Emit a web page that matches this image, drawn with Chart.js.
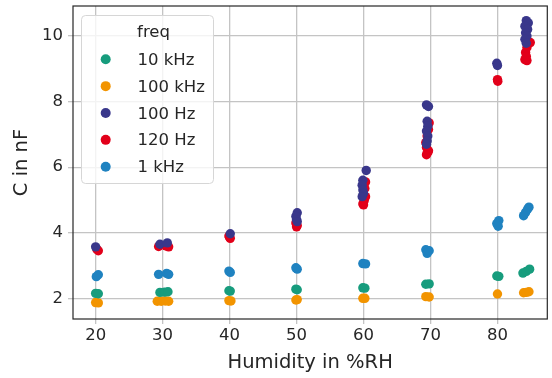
<!DOCTYPE html>
<html><head><meta charset="utf-8">
<script src="https://cdn.jsdelivr.net/npm/chart.js@4/dist/chart.umd.min.js"></script>
<style>html,body{margin:0;padding:0;background:#fff}canvas{display:block}</style>
</head><body>
<canvas id="c" width="552" height="378"></canvas>
<script>
// ---- data ----
const legendTitle = 'freq';
const seriesLabels = ['10 kHz', '100 kHz', '100 Hz', '120 Hz', '1 kHz'];
const xTickValues = [20, 30, 40, 50, 60, 70, 80];
const yTickValues = [2, 4, 6, 8, 10];

const hum10kHz = [20.0, 20.4, 29.6, 30.3, 30.8, 39.9, 40.1, 49.9, 50.1, 59.9, 60.2, 69.3, 69.8, 79.9, 80.2, 83.8, 84.3, 84.8];
const cap10kHz = [2.15, 2.14, 2.18, 2.19, 2.20, 2.23, 2.22, 2.28, 2.26, 2.32, 2.31, 2.43, 2.44, 2.68, 2.67, 2.77, 2.82, 2.89];

const hum100kHz = [20.0, 20.4, 29.2, 29.8, 30.4, 30.9, 39.9, 40.2, 49.9, 50.1, 59.9, 60.2, 69.3, 69.8, 80.0, 83.9, 84.3, 84.7];
const cap100kHz = [1.87, 1.86, 1.91, 1.91, 1.92, 1.91, 1.93, 1.92, 1.95, 1.96, 2.00, 2.00, 2.05, 2.04, 2.13, 2.17, 2.18, 2.20];

const hum100Hz = [20.0, 29.6, 30.7, 40.1, 50.1, 49.9, 50.0, 50.1, 60.4, 59.9, 59.8, 59.9, 60.0, 59.8,
                  69.4, 69.7, 69.5, 69.6, 69.4, 69.6, 69.5, 69.4, 79.9, 80.0,
                  84.3, 84.6, 84.1, 84.5, 84.2, 84.4, 84.1, 84.3];
const cap100Hz = [3.57, 3.65, 3.69, 3.97, 4.61, 4.50, 4.40, 4.34, 5.90, 5.60, 5.45, 5.30, 5.20, 5.10,
                  7.90, 7.85, 7.40, 7.25, 7.10, 6.95, 6.80, 6.70, 9.17, 9.10,
                  10.47, 10.40, 10.30, 10.20, 10.10, 10.00, 9.90, 9.78];

const hum120Hz = [20.2, 20.4, 29.4, 30.5, 30.9, 39.9, 40.1, 40.0, 49.9, 50.1, 50.0,
                  60.3, 60.2, 60.3, 60.1, 59.9, 60.0,
                  69.8, 69.7, 69.5, 69.3, 69.4, 69.6, 69.4, 69.7, 80.0, 80.05,
                  84.9, 84.4, 84.2, 84.3, 84.1, 84.4];
const cap120Hz = [3.49, 3.45, 3.58, 3.60, 3.57, 3.90, 3.83, 3.86, 4.30, 4.22, 4.18,
                  5.55, 5.35, 5.10, 4.98, 4.88, 4.85,
                  7.35, 7.15, 6.95, 6.75, 6.60, 6.45, 6.38, 6.50, 8.67, 8.62,
                  9.80, 9.65, 9.50, 9.38, 9.28, 9.25];

const hum1kHz = [20.1, 20.4, 29.4, 30.6, 30.9, 39.9, 40.1, 49.9, 50.1, 59.9, 60.3, 69.3, 69.8, 69.5, 80.2, 79.9, 80.1, 84.7, 84.5, 84.2, 83.9];
const cap1kHz = [2.66, 2.72, 2.73, 2.76, 2.73, 2.83, 2.79, 2.93, 2.89, 3.06, 3.05, 3.48, 3.45, 3.37, 4.37, 4.28, 4.20, 4.78, 4.72, 4.62, 4.52];

const seriesColors = ['#179c7d', '#f29400', '#39378b', '#e2001a', '#1f82c0'];

const pairs = (xs, ys) => xs.map((x, i) => ({x: x, y: ys[i]}));
const seriesData = [
  pairs(hum10kHz, cap10kHz),
  pairs(hum100kHz, cap100kHz),
  pairs(hum100Hz, cap100Hz),
  pairs(hum120Hz, cap120Hz),
  pairs(hum1kHz, cap1kHz)
];

const FONT = "'DejaVu Sans', sans-serif";
const TEXT = '#262626';
const GRID = '#c4c4c4';

const framePlugin = {
  id: 'frame',
  afterDraw(chart) {
    const {ctx, chartArea: a} = chart;
    ctx.save();
    ctx.strokeStyle = '#262626';
    ctx.lineWidth = 1.2;
    ctx.strokeRect(a.left, a.top, a.right - a.left, a.bottom - a.top);
    ctx.restore();
  }
};

const legendPlugin = {
  id: 'boxLegend',
  afterDraw(chart) {
    const ctx = chart.ctx;
    const x0 = 81.5, y0 = 15.5, w = 132, h = 168, r = 4;
    ctx.save();
    ctx.beginPath();
    ctx.moveTo(x0 + r, y0);
    ctx.arcTo(x0 + w, y0, x0 + w, y0 + h, r);
    ctx.arcTo(x0 + w, y0 + h, x0, y0 + h, r);
    ctx.arcTo(x0, y0 + h, x0, y0, r);
    ctx.arcTo(x0, y0, x0 + w, y0, r);
    ctx.closePath();
    ctx.fillStyle = 'rgba(255,255,255,0.8)';
    ctx.fill();
    ctx.strokeStyle = '#d6d6d6';
    ctx.lineWidth = 1;
    ctx.stroke();
    ctx.fillStyle = TEXT;
    ctx.font = '16.5px ' + FONT;
    ctx.textAlign = 'center';
    ctx.textBaseline = 'alphabetic';
    ctx.fillText(legendTitle, 153.5, 36.7);
    ctx.textAlign = 'left';
    chart.data.datasets.forEach((ds, i) => {
      const yc = 59.3 + i * 26.85;
      ctx.beginPath();
      ctx.arc(105.7, yc, 5, 0, Math.PI * 2);
      ctx.fillStyle = ds.backgroundColor;
      ctx.fill();
      ctx.fillStyle = TEXT;
      ctx.fillText(ds.label, 137.5, yc + 5.5);
    });
    ctx.restore();
  }
};

new Chart(document.getElementById('c'), {
  type: 'scatter',
  data: {
    datasets: seriesLabels.map((lab, i) => ({
      label: lab,
      data: seriesData[i],
      backgroundColor: seriesColors[i],
      borderColor: seriesColors[i],
      borderWidth: 0,
      pointRadius: 4.7,
      pointHoverRadius: 4.7
    }))
  },
  options: {
    responsive: false,
    devicePixelRatio: 1,
    animation: false,
    layout: {padding: {top: 6, right: 3, left: 0, bottom: 0}},
    plugins: {legend: {display: false}, tooltip: {enabled: false}},
    scales: {
      x: {
        type: 'linear',
        min: 16.62, max: 87.44,
        afterBuildTicks: s => { s.ticks = xTickValues.map(v => ({value: v})); },
        afterFit: s => { s.height = 59; s.paddingLeft = 0; s.paddingRight = 0; },
        grid: {color: GRID, lineWidth: 1.3, tickLength: 5, tickColor: GRID},
        border: {display: false},
        ticks: {color: TEXT, font: {family: FONT, size: 16.5}, padding: 2, maxRotation: 0},
        title: {display: true, text: 'Humidity in %RH', color: TEXT,
                font: {family: FONT, size: 19.5}, padding: {top: 0, bottom: 3}}
      },
      y: {
        type: 'linear',
        min: 1.369, max: 10.915,
        afterBuildTicks: s => { s.ticks = yTickValues.map(v => ({value: v})); },
        afterFit: s => { s.width = 73; s.paddingTop = 0; s.paddingBottom = 0; },
        grid: {color: GRID, lineWidth: 1.3, tickLength: 5, tickColor: GRID},
        border: {display: false},
        ticks: {color: TEXT, font: {family: FONT, size: 16.5}, padding: 5},
        title: {display: true, text: 'C in nF', color: TEXT,
                font: {family: FONT, size: 19.5}, padding: {top: 10, bottom: 0}}
      }
    }
  },
  plugins: [framePlugin, legendPlugin]
});
</script>
</body></html>
